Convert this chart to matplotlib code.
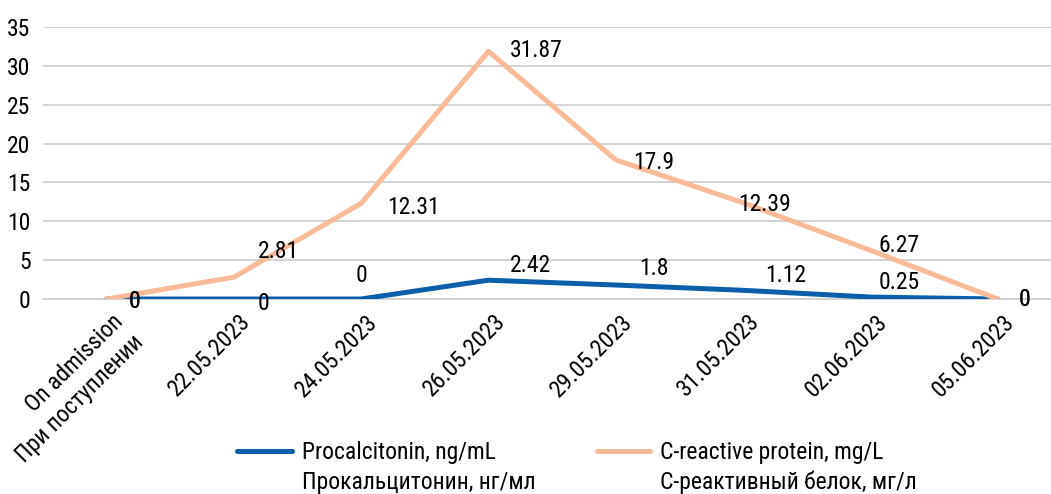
import numpy as np
import matplotlib.pyplot as plt
from matplotlib.lines import Line2D
from matplotlib.transforms import ScaledTranslation

categories = ["On admission\nПри поступлении", "22.05.2023", "24.05.2023", "26.05.2023",
              "29.05.2023", "31.05.2023", "02.06.2023", "05.06.2023"]
procalcitonin = [0, 0, 0, 2.42, 1.8, 1.12, 0.25, 0]
crp = [0, 2.81, 12.31, 31.87, 17.9, 12.39, 6.27, 0]
pct_label = ["Procalcitonin, ng/mL", "Прокальцитонин, нг/мл"]
crp_label = ["C-reactive protein, mg/L", "С-реактивный белок, мг/л"]

# data label offsets in pixels (dx, dy)
pct_offsets = [(28, -3), (30, -4), (0, 24), (42, 15), (38, 17), (43, 15), (29, 15), (27, -1)]
crp_offsets = [(28, -3), (45, 26), (52, -4), (48, 1), (38, -3), (21, -2), (29, 5), (27, -1)]

plt.rcParams['font.family'] = ['Roboto Condensed', 'DejaVu Sans']
fs = 17

blue = "#0B5EA8"
orange = "#F8BA98"

fig = plt.figure(figsize=(10.51, 4.94), dpi=100)
ax = fig.add_axes([43 / 1051, 1 - 299 / 494, 1 - 43 / 1051, 272 / 494])

x = np.arange(len(categories))
ax.plot(x, procalcitonin, color=blue, lw=3.6, zorder=3, solid_capstyle="round")
ax.plot(x, crp, color=orange, lw=3.6, zorder=3, solid_capstyle="round")

for i, v in enumerate(procalcitonin):
    ax.annotate(f"{v:g}", (x[i], v), xytext=pct_offsets[i], textcoords="offset pixels",
                ha="center", va="center", fontsize=fs, zorder=4)
for i, v in enumerate(crp):
    ax.annotate(f"{v:g}", (x[i], v), xytext=crp_offsets[i], textcoords="offset pixels",
                ha="center", va="center", fontsize=fs, zorder=4)

ax.set_xlim(-0.5, 7.42)
ax.set_ylim(0, 35)
ax.set_yticks(range(0, 36, 5))
ax.yaxis.grid(True, color="#D0D0D0", lw=1.3)
ax.set_axisbelow(True)
for s in ["top", "right", "left"]:
    ax.spines[s].set_visible(False)
ax.spines["bottom"].set_color("#D0D0D0")
ax.spines["bottom"].set_linewidth(1.3)
ax.tick_params(axis="y", length=0, pad=9, labelsize=fs)
ax.tick_params(axis="x", length=0, pad=8, labelsize=fs)
ax.set_xticks(x)
ax.set_xticklabels(categories, rotation=45, ha="right", va="top", rotation_mode="anchor",
                   linespacing=1.3)
shift = ScaledTranslation(5 / 100, 0, fig.dpi_scale_trans)
for lab in ax.get_xticklabels():
    lab.set_transform(lab.get_transform() + shift)

# legend drawn by hand so the handle sits on the first line of each label
W, H = 1051, 494
for (x0, x1, tx), col, lab in [((237, 292, 302), blue, pct_label),
                               ((597, 650, 660), orange, crp_label)]:
    fig.add_artist(Line2D([x0 / W, x1 / W], [1 - 451 / H, 1 - 451 / H], color=col, lw=3.6,
                          solid_capstyle="round"))
    fig.text(tx / W, 1 - 452 / H, lab[0], ha="left", va="center", fontsize=fs)
    fig.text(tx / W, 1 - 482 / H, lab[1], ha="left", va="center", fontsize=fs)

fig.savefig("out.png", dpi=100)
